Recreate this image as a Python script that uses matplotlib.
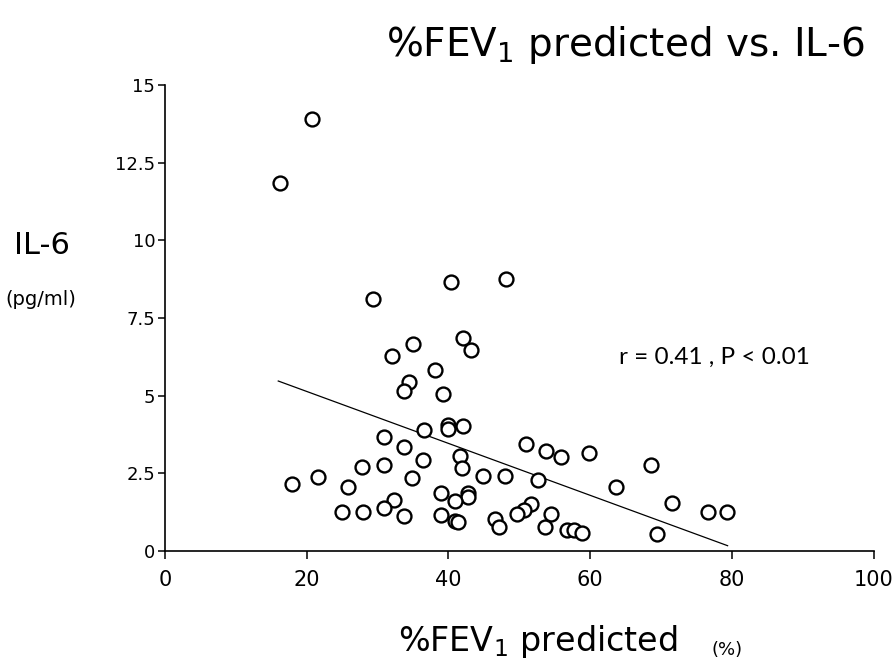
import numpy as np
import matplotlib
matplotlib.use("Agg")
import matplotlib.pyplot as plt

# %FEV1 predicted (x) and IL-6 pg/ml (y)
fev1 = [20.8, 16.3, 29.3, 40.4, 48.2,
        42.1, 43.2, 35.0, 32.1, 38.1, 34.5, 33.8, 39.3,
        40.0, 40.0, 42.0, 36.5, 30.9, 33.8, 41.7, 36.4, 30.9, 27.8, 41.9,
        44.9, 48.0, 34.8, 21.6, 17.9, 25.9, 38.9, 42.8, 42.8, 40.9, 32.4,
        30.9, 25.0, 27.9, 33.8, 38.9, 40.9, 41.3, 46.6, 47.1,
        50.9, 53.8, 55.9, 59.9, 68.6, 52.7, 63.7, 71.5, 76.7, 79.3,
        51.7, 50.7, 49.7, 54.5, 53.7, 56.8, 57.7, 58.8, 69.5]
il6 = [13.9, 11.84, 8.11, 8.65, 8.75,
       6.87, 6.46, 6.66, 6.27, 5.84, 5.44, 5.15, 5.04,
       4.06, 3.94, 4.03, 3.89, 3.67, 3.34, 3.05, 2.93, 2.78, 2.69, 2.66,
       2.42, 2.42, 2.36, 2.39, 2.16, 2.05, 1.86, 1.86, 1.73, 1.61, 1.63,
       1.37, 1.25, 1.25, 1.14, 1.15, 0.97, 0.95, 1.03, 0.78,
       3.43, 3.21, 3.02, 3.17, 2.76, 2.28, 2.06, 1.55, 1.25, 1.25,
       1.52, 1.32, 1.20, 1.19, 0.77, 0.69, 0.67, 0.59, 0.55]

# regression line as drawn
fit_slope = -0.0836
fit_intercept = 6.81
fit_range = [16.0, 79.4]

x_ticks = [0, 20, 40, 60, 80, 100]
y_ticks = [0, 2.5, 5, 7.5, 10, 12.5, 15]
y_tick_labels = ['0', '2.5', '5', '7.5', '10', '12.5', '15']

fig = plt.figure(figsize=(8.96, 6.72), dpi=100)
ax = fig.add_axes([0.184, 0.18, 0.791, 0.6935])

ax.plot(fev1, il6, linestyle='none', marker='o', ms=10,
        mfc='white', mec='black', mew=1.7, zorder=3)

fx = np.array(fit_range)
ax.plot(fx, fit_intercept + fit_slope * fx, color='black', lw=0.9, zorder=2)

ax.set_xlim(0, 100)
ax.set_ylim(0, 15)
ax.set_xticks(x_ticks)
ax.set_yticks(y_ticks)
ax.set_yticklabels(y_tick_labels)
ax.spines['top'].set_visible(False)
ax.spines['right'].set_visible(False)
ax.spines['left'].set_linewidth(1.2)
ax.spines['bottom'].set_linewidth(1.2)
ax.tick_params(axis='x', direction='out', length=6, width=1.1,
               labelsize=15, pad=8)
ax.tick_params(axis='y', direction='out', length=5, width=1.1,
               labelsize=13, pad=2)

ax.text(64.1, 6.24, 'r = 0.41 , P < 0.01', fontsize=17.5,
        family='Lato', va='center', ha='left')

fig.text(0.698, 0.933, '%FEV$_1$ predicted vs. IL-6', fontsize=28,
         ha='center', va='center')
fig.text(0.047, 0.635, 'IL-6', fontsize=22, ha='center', va='center')
fig.text(0.045, 0.555, '(pg/ml)', fontsize=14, ha='center', va='center')
fig.text(0.60, 0.045, '%FEV$_1$ predicted', fontsize=24,
         ha='center', va='center')
fig.text(0.812, 0.033, '(%)', fontsize=13, ha='center', va='center')

fig.savefig('out.png', dpi=100)
